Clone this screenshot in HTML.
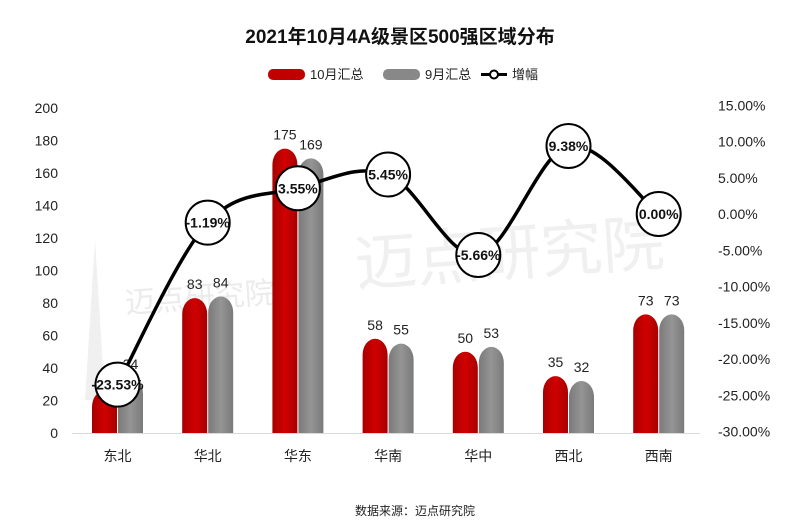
<!DOCTYPE html>
<html><head><meta charset="utf-8"><style>
body{margin:0;background:#fff}
svg{display:block;font-family:"Liberation Sans","Noto Sans CJK SC",sans-serif}
</style></head><body>
<svg id="s" width="800" height="530" xmlns="http://www.w3.org/2000/svg">
<defs>
<linearGradient id="gr" x1="0" x2="1"><stop offset="0" stop-color="#a80000"/><stop offset=".5" stop-color="#d00000"/><stop offset="1" stop-color="#a80000"/></linearGradient>
<linearGradient id="gg" x1="0" x2="1"><stop offset="0" stop-color="#7a7a7a"/><stop offset=".5" stop-color="#959595"/><stop offset="1" stop-color="#7a7a7a"/></linearGradient>
</defs>
<text x="400" y="43" text-anchor="middle" font-size="19" font-weight="bold" fill="#111">2021年10月4A级景区500强区域分布</text>
<rect x="268" y="69" width="37" height="11" rx="5" fill="#c00000"/>
<text x="310" y="79" font-size="13" fill="#222">10月汇总</text>
<rect x="383" y="69" width="37" height="11" rx="5" fill="#888"/>
<text x="425" y="79" font-size="13" fill="#222">9月汇总</text>
<line x1="481" y1="74.5" x2="507" y2="74.5" stroke="#000" stroke-width="3"/>
<circle cx="494" cy="74.5" r="4" fill="#fff" stroke="#000" stroke-width="2"/>
<text x="512" y="79" font-size="13" fill="#222">增幅</text>
<text x="510" y="275" text-anchor="middle" font-size="62" fill="#f0f0f0" transform="rotate(-4 510 260)">迈点研究院</text>
<text x="200" y="308" text-anchor="middle" font-size="30" fill="#ebebeb" transform="rotate(-4 200 300)">迈点研究院</text>
<polygon points="85,400 95,240 105,400" fill="#f0f0f0"/>
<line x1="72" y1="433.5" x2="700" y2="433.5" stroke="#d9d9d9"/>
<g id="g"></g>
<text x="415" y="515" text-anchor="middle" font-size="12" fill="#222">数据来源：迈点研究院</text>
</svg>
<script>
var g=document.getElementById('g'),h='';
var cats=['东北','华北','华东','华南','华中','西北','西南'],a=[26,83,175,58,50,35,73],b=[34,84,169,55,53,32,73],p=[-23.53,-1.19,3.55,5.45,-5.66,9.38,0.00];
for(var i=0;i<=10;i++){var y=433-i*20*1.625;h+='<text x="58" y="'+(y+5)+'" text-anchor="end" font-size="14" fill="#222">'+(i*20)+'</text>';}
for(var i=0;i<10;i++){var v=15-5*i,y=214-7.25*v;h+='<text x="718" y="'+(y+5)+'" font-size="14" fill="#222">'+v.toFixed(2)+'%</text>';}
function bar(x,v,f){var t=433-v*1.625,w=25,r=12.5,ry=Math.min(16,(433-t)/2);return '<path d="M'+x+',433 L'+x+','+(t+ry)+' A'+r+','+ry+' 0 0 1 '+(x+w)+','+(t+ry)+' L'+(x+w)+',433Z" fill="'+f+'"/>';}
var pts=[];
for(var i=0;i<7;i++){var c=117.5+90.2*i;
h+=bar(c-25.5,a[i],'url(#gr)')+bar(c+0.5,b[i],'url(#gg)');
h+='<text x="'+(c-13)+'" y="'+(433-a[i]*1.625-9)+'" text-anchor="middle" font-size="14" fill="#222">'+a[i]+'</text>';
h+='<text x="'+(c+13)+'" y="'+(433-b[i]*1.625-9)+'" text-anchor="middle" font-size="14" fill="#222">'+b[i]+'</text>';
h+='<text x="'+c+'" y="461" text-anchor="middle" font-size="14" fill="#222">'+cats[i]+'</text>';
pts.push([c,214-7.25*p[i]]);}
var d='M'+pts[0][0]+','+pts[0][1];
for(var i=0;i<6;i++){var p0=pts[Math.max(i-1,0)],p1=pts[i],p2=pts[i+1],p3=pts[Math.min(i+2,6)],k=6;
d+=' C'+(p1[0]+(p2[0]-p0[0])/k)+','+(p1[1]+(p2[1]-p0[1])/k)+' '+(p2[0]-(p3[0]-p1[0])/k)+','+(p2[1]-(p3[1]-p1[1])/k)+' '+p2[0]+','+p2[1];}
h+='<path d="'+d+'" fill="none" stroke="#000" stroke-width="3.5"/>';
for(var i=0;i<7;i++){h+='<circle cx="'+pts[i][0]+'" cy="'+pts[i][1]+'" r="22" fill="#fff" stroke="#000" stroke-width="2"/>';
h+='<text x="'+pts[i][0]+'" y="'+(pts[i][1]+5)+'" text-anchor="middle" font-size="14" font-weight="bold" fill="#111">'+p[i].toFixed(2)+'%</text>';}
g.innerHTML=h;
</script>
</body></html>
